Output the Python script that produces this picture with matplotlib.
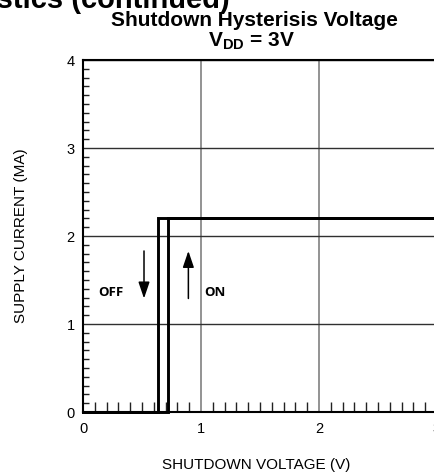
import matplotlib
matplotlib.use('Agg')
import matplotlib.pyplot as plt
from matplotlib.ticker import MultipleLocator

# Shutdown hysteresis traces (V, mA)
off_v = [3.0, 0.636, 0.636, 0.0]
off_i = [2.21, 2.21, 0.0, 0.0]
on_v = [0.0, 0.72, 0.72, 3.0]
on_i = [0.0, 0.0, 2.21, 2.21]

x_ticks = [0, 1, 2, 3]
y_ticks = [0, 1, 2, 3, 4]

plt.rcParams['font.family'] = ['Liberation Sans', 'DejaVu Sans']
plt.rcParams['mathtext.fontset'] = 'custom'
plt.rcParams['mathtext.rm'] = 'Liberation Sans'
plt.rcParams['mathtext.bf'] = 'Liberation Sans:bold'

W, H = 435, 473
fig = plt.figure(figsize=(W / 100, H / 100), dpi=100)
ax = fig.add_axes([83 / W, 61 / H, 354 / W, 352 / H])

ax.set_xlim(0, 3)
ax.set_ylim(0, 4)
ax.set_xticks(x_ticks)
ax.set_yticks(y_ticks)
ax.xaxis.set_minor_locator(MultipleLocator(0.1))
ax.yaxis.set_minor_locator(MultipleLocator(0.1))
ax.tick_params(axis='both', which='major', length=0, labelsize=10.5)
ax.tick_params(axis='x', which='major', pad=7)
ax.tick_params(axis='y', which='major', pad=6)
ax.tick_params(axis='x', which='minor', direction='in', length=7, width=1, color='#222222')
ax.tick_params(axis='y', which='minor', direction='in', length=4, width=1, color='#222222')

# vertical grid is grey, horizontal grid darker
ax.grid(axis='x', which='major', color='#808080', lw=1.2)
ax.grid(axis='y', which='major', color='#303030', lw=1.0)
ax.set_axisbelow(True)

for side in ['left', 'bottom', 'top']:
    ax.spines[side].set_linewidth(1.5)
ax.spines['right'].set_visible(False)

ax.plot(off_v, off_i, color='black', lw=2.1, solid_joinstyle='miter', clip_on=False)
ax.plot(on_v, on_i, color='black', lw=2.1, solid_joinstyle='miter', clip_on=False)

arrow = dict(arrowstyle='-|>,head_length=1.0,head_width=0.34', color='black',
             lw=1.1, shrinkA=0, shrinkB=0)
ax.annotate('', xy=(0.517, 1.29), xytext=(0.517, 1.83), arrowprops=arrow)
ax.annotate('', xy=(0.893, 1.83), xytext=(0.893, 1.29), arrowprops=arrow)
ax.text(0.233, 1.356, 'OFF', fontsize=9.5, fontweight='bold', family='Open Sans',
        ha='center', va='center')
ax.text(1.12, 1.356, 'ON', fontsize=9.5, fontweight='bold', family='Open Sans',
        ha='center', va='center')

ax.set_xlabel('SHUTDOWN VOLTAGE (V)', fontsize=11)
ax.xaxis.set_label_coords(0.49, -0.131)
ax.set_ylabel('SUPPLY CURRENT (MA)', fontsize=11)
ax.yaxis.set_label_coords(-0.155, 0.5)

fig.text(254 / W, 1 - 26 / H, 'Shutdown Hysterisis Voltage', fontsize=15,
         fontweight='bold', ha='center', va='baseline')
fig.text(252 / W, 1 - 46 / H, r'V$_{\mathbf{DD}}$ = 3V', fontsize=15,
         fontweight='bold', ha='center', va='baseline')
fig.text(230 / W, 1 - 7.5 / H, 'Typical Performance Characteristics (continued)',
         fontsize=21, fontweight='bold', ha='right', va='baseline')

fig.savefig('out.png', dpi=100)
